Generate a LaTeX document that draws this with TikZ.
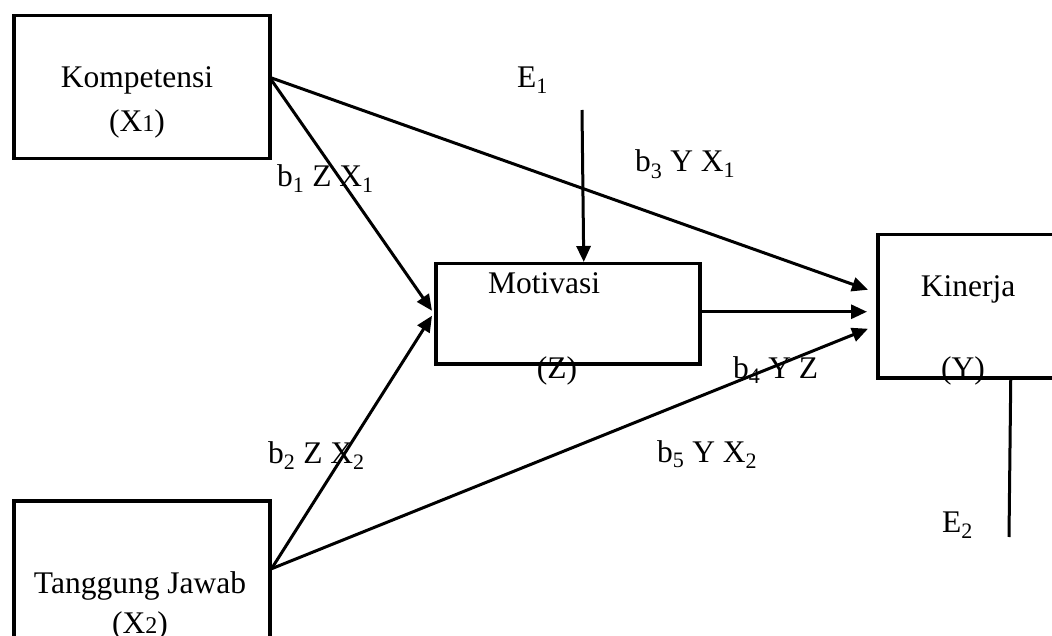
\documentclass[tikz,border=0pt]{standalone}
\usepackage{fontspec}
\setmainfont{Liberation Serif}
\usetikzlibrary{arrows.meta,calc}
\begin{document}
\begin{tikzpicture}[x=1pt,y=-1pt,
  box/.style={draw,line width=3.5pt,inner sep=0pt,anchor=north west},
  txt/.style={font=\fontsize{31.5}{38}\selectfont,inner sep=0pt,anchor=base},
  lbl/.style={font=\fontsize{31.5}{38}\selectfont,inner sep=0pt,anchor=base west},
  arr/.style={line width=3pt,-{Triangle[length=16pt,width=14pt]}},
  ln/.style={line width=3pt}]
\useasboundingbox (0,0) rectangle (1052,636);
\clip (0,0) rectangle (1052,636);
% boxes
\node[box,minimum width=256pt,minimum height=143pt] (komp) at (12,14) {};
\node[box,minimum width=256pt,minimum height=200pt] (tang) at (12,499) {};
\node[box,minimum width=264pt,minimum height=100pt] (motiv) at (434,262) {};
\node[box,minimum width=250pt,minimum height=143pt] (kin) at (876,233) {};
% box texts
\node[txt] (kompA) at (137,88) {Kompetensi};
\node[txt] (kompB) at (137,132) {(X{\fontsize{24}{24}\selectfont 1})};
\node[txt] (tangA) at (140,593) {Tanggung Jawab};
\node[txt] (tangB) at (140,633) {(X{\fontsize{24}{24}\selectfont 2})};
\node[txt] (motivA) at (544,294) {Motivasi};
\node[txt] (motivB) at (557,378) {(Z)};
\node[txt] (kinA) at (968,297) {Kinerja};
\node[txt] (kinB) at (963,378) {(Y)};
% labels
\node[lbl] (e1) at (517,88) {E\textsubscript{1}};
\node[lbl] (e2) at (942,532) {E\textsubscript{2}};
\node[lbl] (l1) at (277,187) {b\textsubscript{1} Z X\textsubscript{1}};
\node[lbl] (l2) at (268,463) {b\textsubscript{2} Z X\textsubscript{2}};
\node[lbl] (l3) at (635,172) {b\textsubscript{3} Y X\textsubscript{1}};
\node[lbl] (l4) at (733,378) {b\textsubscript{4} Y Z};
\node[lbl] (l5) at (657,462) {b\textsubscript{5} Y X\textsubscript{2}};
% connector end points
\coordinate (komps) at ([xshift=-2pt,yshift=10pt]komp.east);
\coordinate (tangs) at ([yshift=32pt]tang.east);
\coordinate (e1top) at (582,110);
\coordinate (e2bot) at (1009,537);
% connectors
\draw[arr] (komps) -- ([xshift=-2pt,yshift=3pt]motiv.west);
\draw[arr] (tangs) -- ([xshift=-2pt,yshift=-2pt]motiv.west);
\draw[arr] (komps) -- ([xshift=-8pt,yshift=16.5pt]kin.west);
\draw[arr] ([yshift=2pt]motiv.east) -- ([xshift=-9pt,yshift=2pt]motiv.east -| kin.west);
\draw[arr] (tangs) -- ([xshift=-8pt,yshift=-22.5pt]kin.west);
\draw[arr] (e1top) -- ([xshift=16pt]motiv.north);
\draw[ln] ([xshift=8pt]kin.south) -- (e2bot);
\end{tikzpicture}
\end{document}
